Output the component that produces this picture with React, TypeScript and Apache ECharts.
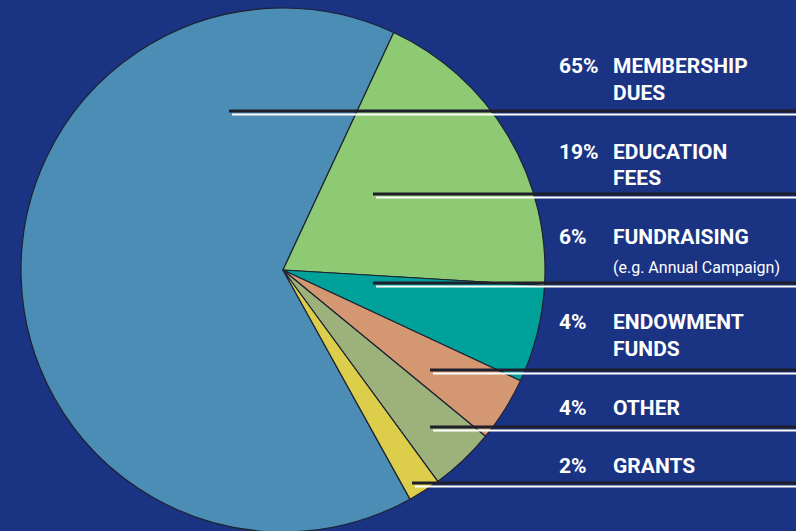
import React, { useEffect, useRef } from "react";
import * as echarts from "echarts";

const categories = ["MEMBERSHIP DUES", "EDUCATION FEES", "FUNDRAISING", "ENDOWMENT FUNDS", "OTHER", "GRANTS"];
const values = [65, 19, 6, 4, 4, 2];
const colors = ["#4b8db4", "#8ec973", "#00a19b", "#d39872", "#9db27b", "#dccd4a"];
const labelLines1 = ["MEMBERSHIP", "EDUCATION", "FUNDRAISING", "ENDOWMENT", "OTHER", "GRANTS"];
const labelLines2 = ["DUES", "FEES", "(e.g. Annual Campaign)", "FUNDS", "", ""];

// layout (pixels)
const rowY1 = [66, 152, 237, 322, 408, 466];
const rowY2 = [93, 178, 267, 349, 0, 0];
const leaderY = [111, 194, 283, 370, 427, 483];
const leaderX = [229, 373, 373, 430, 430, 412];

export default function App() {
  const ref = useRef<HTMLDivElement>(null);
  useEffect(() => {
    const chart = echarts.init(ref.current!, null, { renderer: "svg" });
    const font = "Roboto, 'DejaVu Sans', sans-serif";
    const graphics: any[] = [];
    categories.forEach((c, i) => {
      graphics.push({
        type: "line",
        shape: { x1: leaderX[i], y1: leaderY[i], x2: 800, y2: leaderY[i] },
        style: { stroke: "#1e1f2b", lineWidth: 3 },
        z: 10,
      });
      graphics.push({
        type: "line",
        shape: { x1: leaderX[i] + 3, y1: leaderY[i] + 3.5, x2: 800, y2: leaderY[i] + 3.5 },
        style: { stroke: "#ffffff", lineWidth: 2 },
        z: 11,
      });
      graphics.push({
        type: "text",
        x: 559,
        y: rowY1[i],
        style: {
          text: values[i] + "%",
          fill: "#ffffff",
          font: "bold 21px " + font,
          verticalAlign: "middle",
          align: "left",
        },
        z: 12,
      });
      graphics.push({
        type: "text",
        x: 613,
        y: rowY1[i],
        style: {
          text: labelLines1[i],
          fill: "#ffffff",
          font: "bold 21px " + font,
          verticalAlign: "middle",
          align: "left",
        },
        z: 12,
      });
      if (labelLines2[i]) {
        const small = labelLines2[i].startsWith("(");
        graphics.push({
          type: "text",
          x: 613,
          y: rowY2[i],
          style: {
            text: labelLines2[i],
            fill: "#ffffff",
            font: (small ? "normal 16px " : "bold 21px ") + font,
            verticalAlign: "middle",
            align: "left",
          },
          z: 12,
        });
      }
    });
    chart.setOption({
      animation: false,
      backgroundColor: "#1b3383",
      series: [
        {
          type: "pie",
          center: [283, 270],
          radius: [0, 262],
          startAngle: -61,
          clockwise: true,
          label: { show: false },
          labelLine: { show: false },
          emphasis: { disabled: true },
          itemStyle: { borderColor: "#1d2333", borderWidth: 1.2 },
          data: categories.map((c, i) => ({ name: c, value: values[i], itemStyle: { color: colors[i] } })),
        },
      ],
      graphic: graphics,
    });
    return () => chart.dispose();
  }, []);
  return <div ref={ref} style={{ position: "absolute", left: 0, top: 0, width: 796, height: 531 }} />;
}
